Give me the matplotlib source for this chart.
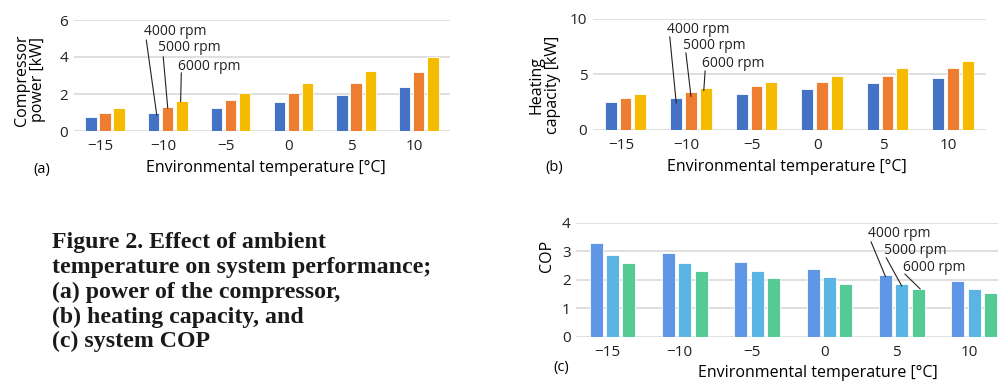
import numpy as np
import matplotlib
matplotlib.use("Agg")
import matplotlib.pyplot as plt

# Data
temps = ["\u221215", "\u221210", "\u22125", "0", "5", "10"]
speeds = ["4000 rpm", "5000 rpm", "6000 rpm"]

power_4000 = [0.74, 0.96, 1.23, 1.57, 1.93, 2.39]
power_5000 = [0.99, 1.28, 1.66, 2.07, 2.59, 3.19]
power_6000 = [1.26, 1.60, 2.05, 2.59, 3.26, 4.02]

heat_4000 = [2.52, 2.91, 3.27, 3.72, 4.23, 4.71]
heat_5000 = [2.91, 3.42, 3.93, 4.35, 4.86, 5.56]
heat_6000 = [3.27, 3.78, 4.35, 4.86, 5.56, 6.24]

cop_4000 = [3.28, 2.93, 2.63, 2.37, 2.16, 1.97]
cop_5000 = [2.87, 2.58, 2.30, 2.09, 1.86, 1.69]
cop_6000 = [2.58, 2.31, 2.05, 1.85, 1.68, 1.53]

W, H = 998, 383
fig = plt.figure(figsize=(W / 100, H / 100), dpi=100)
plt.rcParams["font.family"] = ["Open Sans", "DejaVu Sans"]


def px(x, y):
    # pixel position -> figure fraction
    return x / W, 1 - y / H


def panel(rect, series, colors, ymax, yticks, step=0.225, width=0.18):
    ax = fig.add_axes(rect)
    x = np.arange(len(temps))
    for i, (vals, c) in enumerate(zip(series, colors)):
        ax.bar(x + (i - 1) * step, vals, width, color=c, edgecolor="white",
               linewidth=0.6, zorder=3)
    ax.set_xlim(-0.5, len(temps) - 0.5)
    ax.set_ylim(0, ymax)
    ax.set_yticks(yticks)
    ax.set_xticks(x - 0.07)
    ax.set_xticklabels(temps)
    ax.grid(axis="y", color="#d9d9d9", linewidth=1.2, zorder=0)
    for s in ax.spines.values():
        s.set_visible(False)
    ax.tick_params(length=0, labelsize=11, colors="#222222")
    ax.tick_params(axis="x", pad=6)
    ax.tick_params(axis="y", pad=4)
    return ax


def labels_with_lines(ax, series, idx, texts, starts, ends_dy, ends_dx, step=0.225):
    for i, (lab, tpos, spos) in enumerate(zip(texts, starts[0], starts[1])):
        ax.text(tpos[0], tpos[1], lab, transform=ax.transAxes, ha="left",
                va="center", fontsize=10, color="#222222")
        xb = idx + (i - 1) * step + ends_dx[i]
        yb = series[i][idx] - ends_dy[i]
        ax.annotate("", xy=(xb, yb), xycoords="data", xytext=spos,
                    textcoords="axes fraction",
                    arrowprops=dict(arrowstyle="-", color="#222222", lw=0.8,
                                    shrinkA=0, shrinkB=0), zorder=5)


ab_colors = ["#4472c4", "#ed7d31", "#f5bb00"]
c_colors = ["#6096e6", "#5ab5e4", "#55ca94"]

# (a) compressor power
pa = [power_4000, power_5000, power_6000]
ax_a = panel([73.6 / W, 1 - 131 / H, 376.6 / W, 111 / H], pa, ab_colors, 6, [0, 2, 4, 6])
labels_with_lines(ax_a, pa, 1, speeds,
                  ([(0.186, 0.90), (0.225, 0.748), (0.276, 0.579)],
                   [(0.193, 0.82), (0.238, 0.669), (0.286, 0.525)]),
                  [0.10, 0.05, 0.02], [0.05, 0.0, -0.02])

# (b) heating capacity
pb = [heat_4000, heat_5000, heat_6000]
ax_b = panel([592.75 / W, 1 - 130 / H, 393 / W, 111 / H], pb, ab_colors, 10, [0, 5, 10])
labels_with_lines(ax_b, pb, 1, speeds,
                  ([(0.188, 0.907), (0.230, 0.759), (0.277, 0.60)],
                   [(0.196, 0.84), (0.237, 0.696), (0.286, 0.534)]),
                  [0.5, 0.4, 0.24], [0.0, 0.0, -0.03])

# (c) COP
pc = [cop_4000, cop_5000, cop_6000]
ax_c = panel([576.3 / W, 1 - 337 / H, 434 / W, 114.3 / H], pc, c_colors, 4, [0, 1, 2, 3, 4])
labels_with_lines(ax_c, pc, 4, speeds,
                  ([(0.673, 0.907), (0.708, 0.755), (0.752, 0.604)],
                   [(0.679, 0.834), (0.714, 0.694), (0.757, 0.551)]),
                  [0.05, 0.08, 0.0], [0.0, 0.0, 0.03])

# axis titles and panel letters
fs_lab = 11.5
fig.text(*px(30.5, 80), "Compressor\npower [kW]", rotation=90, ha="center",
         va="center", fontsize=fs_lab, linespacing=1.0)
fig.text(*px(545, 85), "Heating\ncapacity [kW]", rotation=90, ha="center",
         va="center", fontsize=fs_lab, linespacing=1.0)
fig.text(*px(547.5, 256), "COP", rotation=90, ha="center", va="center",
         fontsize=fs_lab)
fig.text(*px(265.5, 168), "Environmental temperature [\u00b0C]", ha="center",
         va="center", fontsize=fs_lab)
fig.text(*px(787, 167), "Environmental temperature [\u00b0C]", ha="center",
         va="center", fontsize=fs_lab)
fig.text(*px(818, 373), "Environmental temperature [\u00b0C]", ha="center",
         va="center", fontsize=fs_lab)
fig.text(*px(33, 169), "(a)", ha="left", va="center", fontsize=10.5)
fig.text(*px(545, 167), "(b)", ha="left", va="center", fontsize=10.5)
fig.text(*px(553, 368), "(c)", ha="left", va="center", fontsize=10.5)

caption = ("Figure 2. Effect of ambient\n"
           "temperature on system performance;\n"
           "(a) power of the compressor,\n"
           "(b) heating capacity, and\n"
           "(c) system COP")
fig.text(*px(51.5, 232), caption, ha="left", va="top", fontsize=17.2,
         fontweight="bold", family="Liberation Serif", linespacing=1.23,
         color="#1a1a1a")

fig.savefig("out.png", dpi=100)
